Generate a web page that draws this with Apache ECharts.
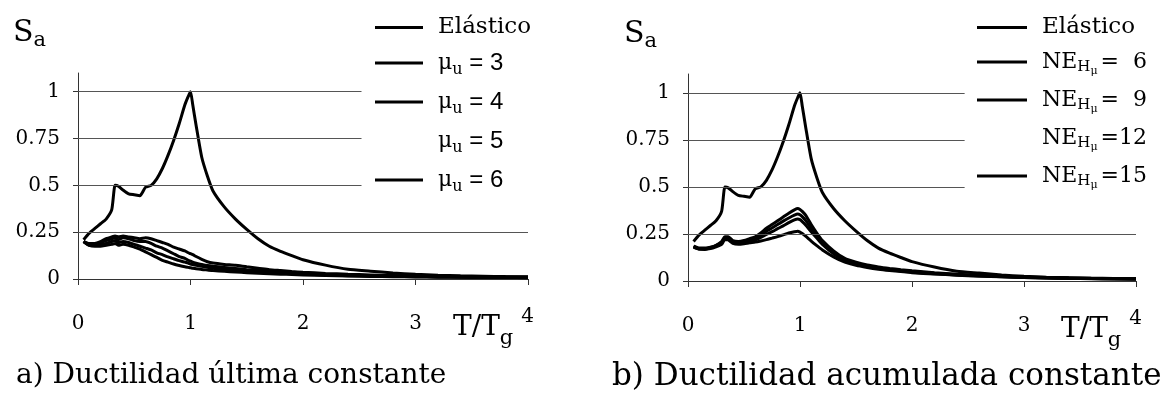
<!DOCTYPE html>
<html><head><meta charset="utf-8">
<script src="https://cdn.jsdelivr.net/npm/echarts@6/dist/echarts.min.js"></script>
<style>html,body{margin:0;padding:0;background:#fff}#c{width:1174px;height:402px}</style>
</head><body><div id="c"></div>
<script>
// T / Tg sample points
const T = [0.05,0.1,0.15,0.2,0.25,0.3,0.33,0.36,0.4,0.45,0.5,0.55,0.6,0.65,0.7,0.75,0.8,0.85,0.9,0.95,0.98,1.0,1.02,1.05,1.1,1.15,1.2,1.3,1.4,1.5,1.6,1.7,1.8,1.9,2.0,2.2,2.4,2.6,2.8,3.0,3.2,3.4,3.6,3.8,4.0];
const elastico = [0.21,0.245,0.27,0.295,0.32,0.37,0.5,0.495,0.475,0.455,0.45,0.445,0.49,0.5,0.535,0.59,0.66,0.74,0.83,0.93,0.975,1.0,0.93,0.82,0.65,0.55,0.47,0.385,0.32,0.265,0.215,0.175,0.148,0.125,0.103,0.074,0.052,0.042,0.032,0.025,0.02,0.017,0.015,0.013,0.012];
// a) constant ultimate ductility
const mu3 = [0.2,0.19,0.19,0.2,0.215,0.225,0.23,0.225,0.23,0.225,0.22,0.215,0.22,0.215,0.205,0.195,0.185,0.17,0.16,0.15,0.14,0.135,0.13,0.12,0.105,0.092,0.085,0.078,0.073,0.065,0.058,0.05,0.045,0.04,0.036,0.03,0.025,0.022,0.019,0.016,0.014,0.013,0.012,0.011,0.01];
const mu4 = [0.2,0.185,0.185,0.195,0.205,0.215,0.22,0.21,0.22,0.215,0.205,0.2,0.2,0.19,0.175,0.165,0.15,0.135,0.12,0.11,0.1,0.095,0.09,0.085,0.078,0.072,0.068,0.062,0.056,0.05,0.045,0.04,0.036,0.032,0.029,0.024,0.02,0.018,0.016,0.014,0.012,0.011,0.01,0.01,0.009];
const mu5 = [0.2,0.18,0.18,0.185,0.19,0.2,0.205,0.195,0.2,0.195,0.185,0.175,0.165,0.155,0.14,0.13,0.118,0.108,0.098,0.09,0.085,0.08,0.077,0.073,0.068,0.063,0.058,0.052,0.047,0.043,0.039,0.035,0.032,0.029,0.026,0.022,0.018,0.016,0.014,0.012,0.011,0.01,0.009,0.009,0.008];
const mu6 = [0.2,0.18,0.175,0.175,0.18,0.185,0.19,0.18,0.185,0.18,0.17,0.16,0.145,0.13,0.115,0.1,0.09,0.08,0.072,0.065,0.062,0.06,0.057,0.055,0.051,0.048,0.045,0.041,0.037,0.034,0.031,0.028,0.026,0.024,0.022,0.019,0.016,0.014,0.012,0.011,0.01,0.009,0.008,0.008,0.007];
// b) constant accumulated ductility
const ne6 = [0.185,0.175,0.175,0.18,0.19,0.21,0.235,0.235,0.215,0.21,0.215,0.225,0.235,0.255,0.28,0.3,0.32,0.34,0.36,0.378,0.385,0.38,0.37,0.35,0.3,0.255,0.215,0.16,0.12,0.1,0.085,0.075,0.067,0.06,0.054,0.044,0.036,0.03,0.025,0.021,0.018,0.016,0.014,0.013,0.012];
const ne9 = [0.185,0.172,0.172,0.178,0.188,0.205,0.23,0.23,0.21,0.205,0.21,0.218,0.228,0.245,0.265,0.282,0.3,0.318,0.335,0.35,0.356,0.352,0.342,0.322,0.28,0.24,0.205,0.152,0.115,0.095,0.081,0.071,0.063,0.056,0.05,0.041,0.034,0.028,0.024,0.02,0.017,0.015,0.013,0.012,0.011];
const ne12 = [0.18,0.17,0.17,0.175,0.185,0.2,0.225,0.225,0.205,0.2,0.205,0.21,0.218,0.232,0.248,0.262,0.278,0.293,0.31,0.325,0.33,0.326,0.316,0.298,0.262,0.228,0.195,0.145,0.11,0.09,0.077,0.068,0.06,0.053,0.047,0.039,0.032,0.027,0.023,0.019,0.016,0.014,0.013,0.012,0.011];
const ne15 = [0.18,0.17,0.168,0.172,0.182,0.195,0.22,0.218,0.2,0.195,0.198,0.203,0.207,0.213,0.22,0.228,0.236,0.245,0.255,0.262,0.265,0.26,0.252,0.238,0.212,0.188,0.165,0.128,0.1,0.083,0.072,0.063,0.056,0.05,0.044,0.037,0.031,0.026,0.022,0.018,0.016,0.014,0.012,0.011,0.01];

const yTicks = [0, 0.25, 0.5, 0.75, 1];
const xTickLabels = [0, 1, 2, 3];
const xTickMarks = [0, 1, 2, 3, 4];
const gridVals = [0.25, 0.5, 0.75, 1];
const gridEndA = 2.52, gridEndB = 2.47;   // where short grid lines stop (before legend)

const namesA = ['a0','a1','a2','a3','a4'];
const namesB = ['b0','b1','b2','b3','b4'];
const seriesA = [elastico, mu3, mu4, mu5, mu6];
const seriesB = [elastico, ne6, ne9, ne12, ne15];
const labels = {
  a0: '{e|Elástico}',
  a1: '{m|μ}{s|u}{q| = 3}',
  a2: '{m|μ}{s|u}{q| = 4}',
  a3: '{m|μ}{s|u}{q| = 5}',
  a4: '{m|μ}{s|u}{q| = 6}',
  b0: '{e|Elástico}',
  b1: '{n|NE}{h|H}{hm|μ}{n|=  6}',
  b2: '{n|NE}{h|H}{hm|μ}{n|=  9}',
  b3: '{n|NE}{h|H}{hm|μ}{n|=12}',
  b4: '{n|NE}{h|H}{hm|μ}{n|=15}'
};

const serif = '"DejaVu Serif", serif';
const sans = '"Liberation Sans", Arial, sans-serif';
const pts = arr => T.map((t, i) => [t, arr[i]]);

const legendRich = {
  e: {fontFamily: serif, fontSize: 23, lineHeight: 30, color: '#000'},
  m: {fontFamily: serif, fontSize: 22, lineHeight: 30, color: '#000'},
  s: {fontFamily: serif, fontSize: 16, lineHeight: 30, verticalAlign: 'bottom', color: '#000'},
  q: {fontFamily: sans, fontSize: 24, lineHeight: 30, color: '#000'},
  n: {fontFamily: serif, fontSize: 22, lineHeight: 30, color: '#000'},
  h: {fontFamily: serif, fontSize: 15, lineHeight: 30, verticalAlign: 'bottom', color: '#000', padding: [0, 0, 2, 0]},
  hm: {fontFamily: serif, fontSize: 11, lineHeight: 30, verticalAlign: 'bottom', color: '#000', padding: [0, 3, 0, 0]}
};

function mkLegend(names, left, itemWidth) {
  return {
    orient: 'vertical', left: left, top: 16, padding: 0,
    itemWidth: itemWidth, itemHeight: 3, itemGap: 12,
    selectedMode: false,
    data: names.map((n, i) => i === 3 ? {name: n, icon: 'none'} : {name: n, icon: 'rect'}),
    itemStyle: {color: '#000'},
    formatter: n => labels[n],
    textStyle: {color: '#000', padding: [0, 0, 0, 10], rich: legendRich}
  };
}

function mkX(gi) {
  return {
    gridIndex: gi, type: 'value', min: 0, max: 4, interval: 1,
    axisLine: {show: true, onZero: false, lineStyle: {color: '#333', width: 1}},
    axisTick: {show: true, length: 6, customValues: xTickMarks, lineStyle: {color: '#333'}},
    axisLabel: {customValues: xTickLabels, margin: 35, fontFamily: serif, fontSize: 20, color: '#000'},
    splitLine: {show: false},
    name: '{t|T/T}{g|g}{f|4}', nameLocation: 'end', nameGap: 6,
    nameTextStyle: {
      align: 'right', verticalAlign: 'top', padding: [28, 0, 0, 0],
      rich: {
        t: {fontFamily: serif, fontSize: 28, lineHeight: 42, color: '#000'},
        g: {fontFamily: serif, fontSize: 21, lineHeight: 42, verticalAlign: 'bottom', color: '#000'},
        f: {fontFamily: serif, fontSize: 20, lineHeight: 42, verticalAlign: 'top', color: '#000', padding: [0, 0, 0, 8]}
      }
    }
  };
}

function mkY(gi, padRight) {
  return {
    gridIndex: gi, type: 'value', min: 0, max: 1.1, interval: 0.25,
    axisLine: {show: true, lineStyle: {color: '#333', width: 1}},
    axisTick: {show: true, length: 5, customValues: yTicks, lineStyle: {color: '#333'}},
    axisLabel: {customValues: yTicks, margin: 18, fontFamily: serif, fontSize: 20, color: '#000', formatter: v => String(v)},
    splitLine: {show: false},
    name: '{s|S}{a|a}', nameLocation: 'end', nameGap: 22,
    nameTextStyle: {
      align: 'right', verticalAlign: 'bottom', padding: [0, padRight, 0, 0],
      rich: {
        s: {fontFamily: serif, fontSize: 30, lineHeight: 36, color: '#000'},
        a: {fontFamily: serif, fontSize: 21, lineHeight: 36, verticalAlign: 'bottom', color: '#000'}
      }
    }
  };
}

function mkSeries(names, arrs, gi, gridEnd) {
  return arrs.map((arr, i) => {
    const s = {
      name: names[i], type: 'line', xAxisIndex: gi, yAxisIndex: gi,
      data: pts(arr), symbol: 'none', smooth: 0.2,
      itemStyle: {color: '#000'},
      lineStyle: {color: '#000', width: 3},
      z: 3
    };
    if (i === 0) {
      s.markLine = {
        silent: true, symbol: ['none', 'none'], label: {show: false},
        lineStyle: {color: '#555', width: 1, type: 'solid'},
        data: gridVals.map(v => [{coord: [0, v]}, {coord: [v === 0.25 ? 4 : gridEnd, v]}])
      };
    }
    return s;
  });
}

const chart = echarts.init(document.getElementById('c'));
chart.setOption({
  animation: false,
  backgroundColor: '#fff',
  grid: [
    {left: 78, top: 73, width: 450, height: 206},
    {left: 688, top: 74, width: 448, height: 207}
  ],
  xAxis: [mkX(0), mkX(1)],
  yAxis: [mkY(0, 32), mkY(1, 31)],
  legend: [mkLegend(namesA, 375, 48), mkLegend(namesB, 977, 50)],
  title: [
    {text: 'a) Ductilidad última constante', left: 16, top: 362, padding: 0, textStyle: {fontFamily: serif, fontSize: 28, fontWeight: 'normal', color: '#000'}},
    {text: 'b) Ductilidad acumulada constante', left: 612, top: 361, padding: 0, textStyle: {fontFamily: serif, fontSize: 31, fontWeight: 'normal', color: '#000'}}
  ],
  series: [...mkSeries(namesA, seriesA, 0, gridEndA), ...mkSeries(namesB, seriesB, 1, gridEndB)]
});
</script>
</body></html>
